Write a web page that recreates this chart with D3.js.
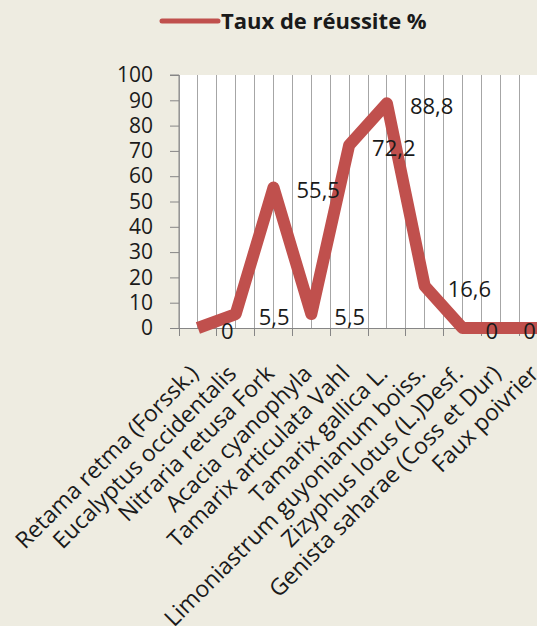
<!DOCTYPE html>
<html>
<head>
<meta charset="utf-8">
<script src="https://cdn.jsdelivr.net/npm/d3@7"></script>
<style>
  html, body { margin: 0; padding: 0; background: #EEECE1; }
  svg { display: block; }
  text { font-family: "Open Sans", "Noto Sans", sans-serif; fill: #1a1a1a; }
</style>
</head>
<body>
<script>
// Taux de réussite par espèce
const categories = [
  "Retama retma (Forssk.)",
  "Eucalyptus occidentalis",
  "Nitraria retusa Fork",
  "Acacia cyanophyla",
  "Tamarix articulata Vahl",
  "Tamarix gallica L.",
  "Limoniastrum guyonianum boiss.",
  "Zizyphus lotus (L.)Desf.",
  "Genista saharae (Coss et Dur)",
  "Faux poivrier"
];
const values = [0, 5.5, 55.5, 5.5, 72.2, 88.8, 16.6, 0, 0, 0];
const yTicks = [0, 10, 20, 30, 40, 50, 60, 70, 80, 90, 100];
const seriesName = "Taux de réussite %";

const W = 537, H = 626;
const plot = { left: 179, right: 557, top: 75, bottom: 328 };
const lineColor = "#C0504D";

const svg = d3.select("body").append("svg")
  .attr("width", W).attr("height", H);

const x = d3.scaleBand().domain(categories).range([plot.left, plot.right]).paddingInner(0).paddingOuter(0);
const y = d3.scaleLinear().domain([0, 100]).range([plot.bottom, plot.top]);
const cx = d => x(d) + x.bandwidth() / 2;

// plot area
svg.append("rect")
  .attr("x", plot.left).attr("y", plot.top)
  .attr("width", plot.right - plot.left).attr("height", plot.bottom - plot.top)
  .attr("fill", "#FFFFFF");

// vertical gridlines at category edges and centres
const gridXs = [];
categories.forEach(c => { gridXs.push(x(c)); gridXs.push(cx(c)); });
gridXs.push(plot.right);
svg.append("g").selectAll("line").data(gridXs).join("line")
  .attr("x1", d => d).attr("x2", d => d)
  .attr("y1", plot.top).attr("y2", plot.bottom)
  .attr("stroke", "#A6A6A6").attr("stroke-width", 1)
  .attr("shape-rendering", "crispEdges");

// y axis
const yAxis = d3.axisLeft(y).tickValues(yTicks).tickSize(9).tickPadding(17);
const gy = svg.append("g").attr("transform", `translate(${plot.left},0)`).call(yAxis);
gy.select(".domain").attr("stroke", "#868686").attr("d", `M-9,${plot.top}H0V${plot.bottom}`);
gy.selectAll(".tick line").attr("stroke", "#868686");
gy.selectAll(".tick text").attr("font-size", 21).attr("fill", "#1a1a1a")
  .style("font-family", '"Open Sans", sans-serif');

// x axis baseline and boundary ticks
svg.append("line")
  .attr("x1", plot.left).attr("x2", plot.right)
  .attr("y1", plot.bottom).attr("y2", plot.bottom)
  .attr("stroke", "#868686").attr("shape-rendering", "crispEdges");
const edgeXs = categories.map(c => x(c)).concat([plot.right]);
svg.append("g").selectAll("line").data(edgeXs).join("line")
  .attr("x1", d => d).attr("x2", d => d)
  .attr("y1", plot.bottom).attr("y2", plot.bottom + 8)
  .attr("stroke", "#868686").attr("shape-rendering", "crispEdges");

// rotated category labels
svg.append("g").selectAll("text").data(categories).join("text")
  .attr("transform", d => `translate(${cx(d) + 2},${plot.bottom + 47}) rotate(-45)`)
  .attr("text-anchor", "end")
  .attr("font-size", 23)
  .text(d => d);

// series line
const line = d3.line().x((d, i) => cx(categories[i])).y(d => y(d));
svg.append("path")
  .datum(values)
  .attr("d", line)
  .attr("fill", "none")
  .attr("stroke", lineColor)
  .attr("stroke-width", 12)
  .attr("stroke-linejoin", "round")
  .attr("stroke-linecap", "butt");

// value labels
svg.append("g").selectAll("text").data(values).join("text")
  .attr("x", (d, i) => cx(categories[i]) + 23)
  .attr("y", d => y(d) + 3)
  .attr("dy", "0.35em")
  .attr("font-size", 22)
  .text(d => String(d).replace(".", ","));

// legend
const lg = svg.append("g");
lg.append("line")
  .attr("x1", 162).attr("x2", 218).attr("y1", 21).attr("y2", 21)
  .attr("stroke", lineColor).attr("stroke-width", 5).attr("stroke-linecap", "round");
lg.append("text")
  .attr("x", 221).attr("y", 21).attr("dy", "0.35em")
  .attr("font-size", 22).attr("font-weight", "bold")
  .text(seriesName);
</script>
</body>
</html>
